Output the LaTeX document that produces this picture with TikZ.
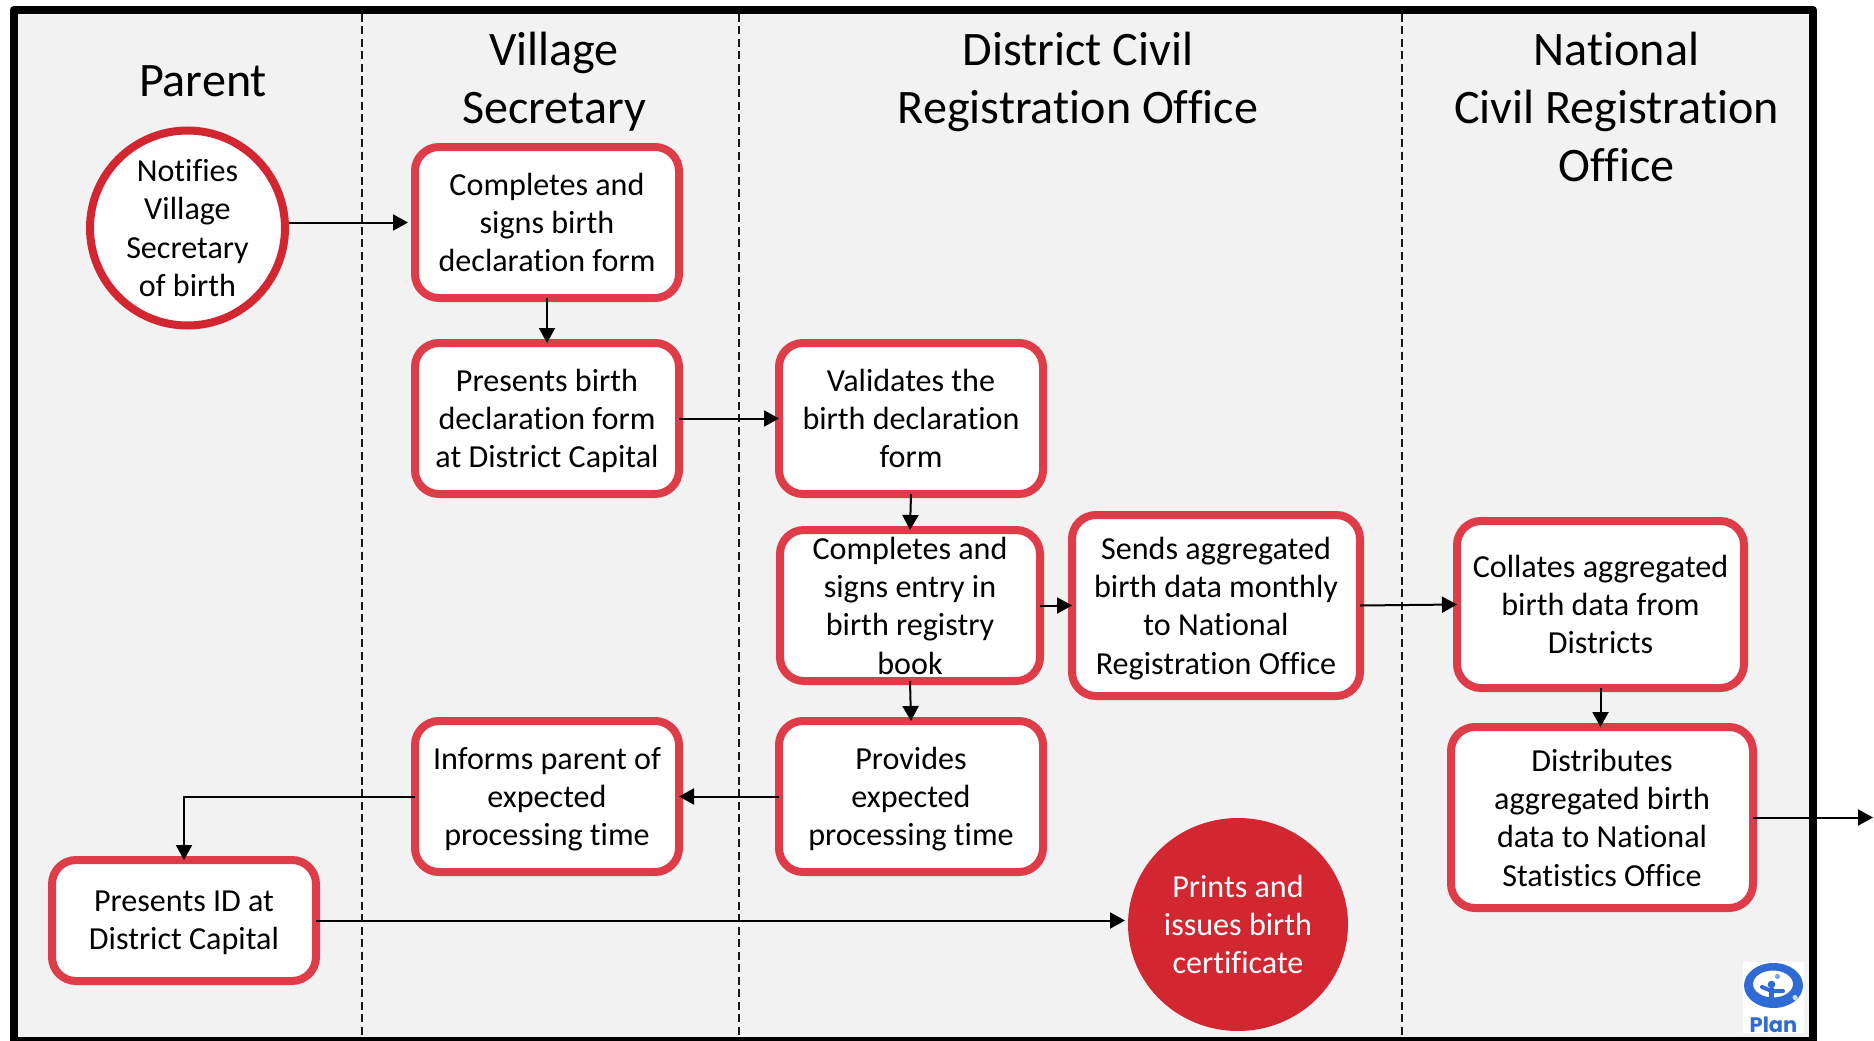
\documentclass[tikz,border=0pt]{standalone}
\usepackage{fontspec}
\setmainfont[Ligatures=NoCommon]{Carlito}
\newfontfamily\logofont{Poppins}
\usetikzlibrary{arrows.meta,shapes.geometric}
\definecolor{boxred}{HTML}{DE3C48}
\definecolor{discred}{HTML}{D22630}
\definecolor{lanegray}{HTML}{F2F2F2}
\definecolor{planblue}{HTML}{2F6BD2}
\newcommand{\bodystrut}{\rule{0pt}{35pt}}
\newcommand{\headstrut}{\rule{0pt}{44pt}}
\tikzset{
    bodytext/.style={font=\fontsize{32.1}{38.3}\selectfont,align=center,inner sep=0pt,outer sep=0pt,
        execute at begin node=\bodystrut,text depth=0pt},
    headtext/.style={font=\fontsize{48.1}{58}\selectfont,align=center,inner sep=0pt,
        execute at begin node=\headstrut,text depth=10pt},
    procbox/.style 2 args={bodytext,draw=boxred,fill=white,line width=8pt,rounded corners=24pt,
        minimum width=#1,minimum height=#2},
    flow/.style={line width=2pt,->,>={Triangle[length=15pt,width=16pt]}},
}
\begin{document}
\begin{tikzpicture}[x=1pt,y=-1pt]

    \useasboundingbox (0,0) rectangle (1874,1041);

    %FRAME
    \draw[line width=8pt,line join=round,fill=lanegray] (13.5,10) rectangle (1813,1041);
    \foreach \x in {362,739,1401.5}{	%lane borders
        \draw[line width=2pt,dash pattern=on 8pt off 4.5pt,black!90] (\x,14)--(\x,1037);
    }

    %LANE HEADINGS
    \node[headtext] (parent) at (203,79) {Parent};
    \node[headtext] (village) at (554,83) {Village\\Secretary};
    \node[headtext] (district) at (1078,83) {District Civil\\Registration Office};
    \node[headtext] (national) at (1616.5,112) {National\\Civil Registration\\Office};

    %STEPS
    \node[bodytext,circle,draw=discred,fill=white,line width=8pt,minimum size=195pt] (notifies) at (187.5,228)
        {Notifies\\Village\\Secretary\\of birth};
    \node[procbox={264}{151}] (completes) at (547,222.5) {Completes and\\signs birth\\declaration form};
    \node[procbox={264}{151}] (presents) at (547,418.5) {Presents birth\\declaration form\\at District Capital};
    \node[procbox={264}{151}] (validates) at (911,418.5) {Validates the\\birth declaration\\form};
    \node[procbox={260}{151}] (entry) at (910,605.5) {Completes and\\signs entry in\\birth registry\\book};
    \node[procbox={288}{181}] (sends) at (1216,605.5) {Sends aggregated\\birth data monthly\\to National\\Registration Office};
    \node[procbox={287}{167}] (collates) at (1600.5,604.5) {Collates aggregated\\birth data from\\Districts};
    \node[procbox={302}{181}] (distributes) at (1602,817.5) {Distributes\\aggregated birth\\data to National\\Statistics Office};
    \node[procbox={264}{151}] (provides) at (911,796.5) {Provides\\expected\\processing time};
    \node[procbox={264}{151}] (informs) at (547,796.5) {Informs parent of\\expected\\processing time};
    \node[procbox={264}{121}] (presentsid) at (184,920.5) {Presents ID at\\District Capital};
    \node[bodytext,ellipse,fill=discred,text=white,minimum width=220pt,minimum height=213pt] (prints) at (1238,924.5)
        {Prints and\\issues birth\\certificate};
    \coordinate (exit) at (1873,817.5);

    %ARROWS
    \draw[flow,shorten <=4pt,shorten >=7pt] (notifies.east |- completes.west)--(completes.west);
    \draw[flow] (completes.south)--(presents.north);
    \draw[flow] (presents.east)--(validates.west);
    \draw[flow] (validates.south)--(entry.north);
    \draw[flow] (entry.east)--(sends.west);
    \draw[flow] (entry.south)--(provides.north);
    \draw[flow] (sends.east)--(collates.west);
    \draw[flow] (collates.south)--(collates.south |- distributes.north);
    \draw[flow] (distributes.east)--(exit);
    \draw[flow] (provides.west)--(informs.east);
    \draw[flow] (informs.west) -| (presentsid.north);
    \draw[flow,shorten >=3pt] (presentsid.east)--(prints.west |- presentsid.east);

    %LOGO
    \fill[white] (1743,962) rectangle (1804,1033);
    \fill[planblue,even odd rule] (1773.5,985.5) ellipse [x radius=29.5,y radius=22.5]
        (1773,984) ellipse [x radius=20,y radius=13.5];
    \fill[planblue] (1771.5,984.5) circle (3.8);
    \draw[planblue,line width=4pt,line cap=round] (1762,987)--(1771.5,991)--(1783,991);
    \draw[planblue,line width=5pt] (1771.5,988)--(1771.5,1000);
    \fill[planblue!60] (1777.5,976.5) circle (2.6);
    \fill[white!75!planblue] (1795,997.5) circle (2.6);
    \node[font=\logofont\bfseries\fontsize{21}{21}\selectfont,text=planblue,inner sep=0pt] (planlabel) at (1773.5,1025) {Plan};

\end{tikzpicture}
\end{document}
